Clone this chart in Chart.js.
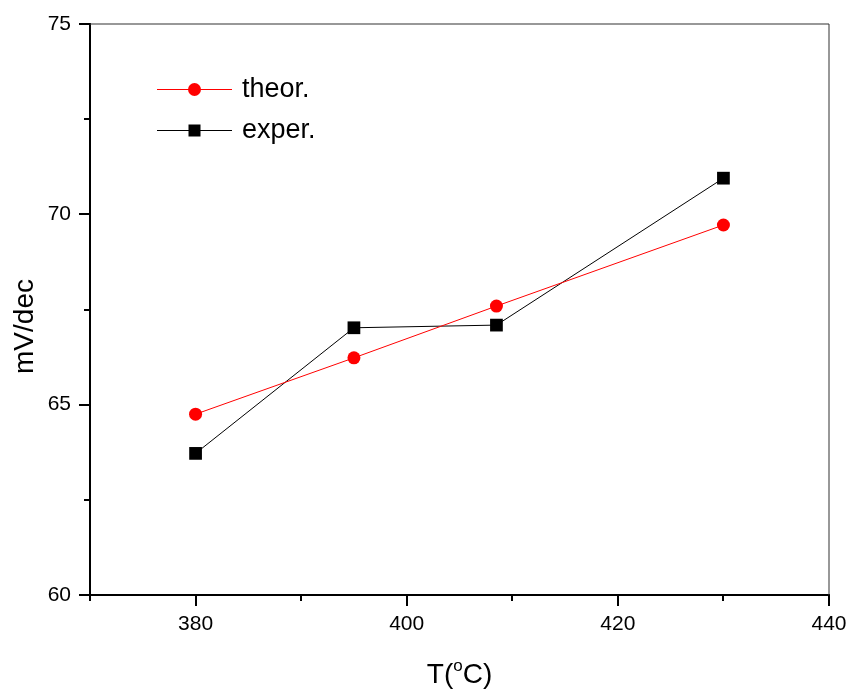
<!DOCTYPE html>
<html>
<head>
<meta charset="utf-8">
<title>mV/dec vs T</title>
<script src="https://cdn.jsdelivr.net/npm/chart.js"></script>
<style>
  html, body { margin: 0; padding: 0; background: #fff; }
  #wrap { width: 850px; height: 690px; }
</style>
</head>
<body>
<div id="wrap"><canvas id="c" width="850" height="690"></canvas></div>
<script>
// Temperatures (°C) and slopes (mV/dec)
const temps = [380, 395, 408.5, 430];
const theor = [64.75, 66.23, 67.59, 69.72];
const exper = [63.72, 67.02, 67.09, 70.95];

// Axis ticks
const xTickLabels = [380, 400, 420, 440];
const xMinorTicks = [370, 390, 410, 430];
const yTickLabels = [60, 65, 70, 75];
const yMinorTicks = [62.5, 67.5, 72.5];

const FONT = "'Liberation Sans', Arial, Helvetica, sans-serif";
Chart.defaults.font.family = FONT;
Chart.defaults.color = '#000';

// Axis frame, tick marks, axis titles and legend
const framePlugin = {
  id: 'frame',
  afterDraw(chart) {
    const ctx = chart.ctx;
    const a = chart.chartArea;
    const xs = chart.scales.x, ys = chart.scales.y;
    ctx.save();
    ctx.fillStyle = '#000';
    // thick left and bottom axes
    ctx.fillRect(a.left - 1, a.top - 1, 2, a.bottom - a.top + 2);
    ctx.fillRect(a.left - 1, a.bottom - 1, a.right - a.left + 2, 2);
    // thin top and right edges
    ctx.fillStyle = '#333';
    ctx.fillRect(a.left, a.top - 0.5, a.right - a.left, 1);
    ctx.fillRect(a.right - 0.5, a.top, 1, a.bottom - a.top);
    ctx.fillStyle = '#000';
    // tick marks (outward)
    const MAJ = 11, MIN = 6;
    xTickLabels.forEach(v => { const px = Math.round(xs.getPixelForValue(v)); ctx.fillRect(px - 1, a.bottom, 2, MAJ); });
    xMinorTicks.forEach(v => { const px = Math.round(xs.getPixelForValue(v)); ctx.fillRect(px - 1, a.bottom, 2, MIN); });
    yTickLabels.forEach(v => { const py = Math.round(ys.getPixelForValue(v)); ctx.fillRect(a.left - MAJ, py - 1, MAJ, 2); });
    yMinorTicks.forEach(v => { const py = Math.round(ys.getPixelForValue(v)); ctx.fillRect(a.left - MIN, py - 1, MIN, 2); });

    // x-axis title with superscript degree "o"
    ctx.fillStyle = '#000';
    ctx.textBaseline = 'alphabetic';
    ctx.textAlign = 'left';
    const big = '28px ' + FONT, small = '17px ' + FONT;
    ctx.font = big;
    const w1 = ctx.measureText('T(').width;
    const w3 = ctx.measureText('C)').width;
    ctx.font = small;
    const w2 = ctx.measureText('o').width;
    const total = w1 + w2 + w3;
    const cx = (a.left + a.right) / 2;
    let x0 = cx - total / 2;
    const base = 683;
    ctx.font = big; ctx.fillText('T(', x0, base);
    ctx.font = small; ctx.fillText('o', x0 + w1, base - 12);
    ctx.font = big; ctx.fillText('C)', x0 + w1 + w2, base);

    // y-axis title
    ctx.save();
    ctx.translate(33, (a.top + a.bottom) / 2 + 17);
    ctx.rotate(-Math.PI / 2);
    ctx.textAlign = 'center';
    ctx.font = big;
    ctx.fillText('mV/dec', 0, 0);
    ctx.restore();

    // legend
    const items = [
      { label: 'theor.', color: '#ff0000', style: 'circle', y: 89 },
      { label: 'exper.', color: '#000000', style: 'rect', y: 130 }
    ];
    items.forEach(it => {
      ctx.strokeStyle = it.color;
      ctx.lineWidth = 1;
      ctx.beginPath();
      ctx.moveTo(157, it.y + 0.5);
      ctx.lineTo(232, it.y + 0.5);
      ctx.stroke();
      ctx.fillStyle = it.color;
      if (it.style === 'circle') {
        ctx.beginPath();
        ctx.arc(194.5, it.y + 0.5, 6.5, 0, Math.PI * 2);
        ctx.fill();
      } else {
        ctx.fillRect(188.5, it.y - 5.5, 12, 12);
      }
      ctx.fillStyle = '#000';
      ctx.font = '27px ' + FONT;
      ctx.textAlign = 'left';
      ctx.textBaseline = 'middle';
      ctx.fillText(it.label, 242, it.y + 1);
    });
    ctx.restore();
  }
};

new Chart(document.getElementById('c'), {
  type: 'scatter',
  data: {
    datasets: [
      {
        label: 'theor.',
        data: temps.map((t, i) => ({ x: t, y: theor[i] })),
        showLine: true,
        borderColor: '#ff0000',
        backgroundColor: '#ff0000',
        borderWidth: 1,
        pointStyle: 'circle',
        pointRadius: 6.5,
        pointBorderWidth: 0,
        tension: 0
      },
      {
        label: 'exper.',
        data: temps.map((t, i) => ({ x: t, y: exper[i] })),
        showLine: true,
        borderColor: '#000000',
        backgroundColor: '#000000',
        borderWidth: 1,
        pointStyle: 'rect',
        pointRadius: 9,
        pointBorderWidth: 0,
        tension: 0
      }
    ]
  },
  options: {
    responsive: false,
    animation: false,
    layout: { padding: { left: 0, top: 24, right: 21, bottom: 0 } },
    plugins: { legend: { display: false }, tooltip: { enabled: false } },
    scales: {
      x: {
        type: 'linear',
        min: 370, max: 440,
        grid: { display: false, drawTicks: false },
        border: { display: false },
        afterBuildTicks: s => { s.ticks = xTickLabels.map(v => ({ value: v })); },
        afterFit: s => { s.height = 95; s.paddingLeft = 0; s.paddingRight = 0; },
        ticks: { font: { size: 21 }, padding: 17, maxRotation: 0, autoSkip: false }
      },
      y: {
        type: 'linear',
        min: 60, max: 75,
        grid: { display: false, drawTicks: false },
        border: { display: false },
        afterBuildTicks: s => { s.ticks = yTickLabels.map(v => ({ value: v })); },
        afterFit: s => { s.width = 90; s.paddingTop = 0; s.paddingBottom = 0; },
        ticks: { font: { size: 21 }, padding: 19, autoSkip: false }
      }
    }
  },
  plugins: [framePlugin]
});
</script>
</body>
</html>
